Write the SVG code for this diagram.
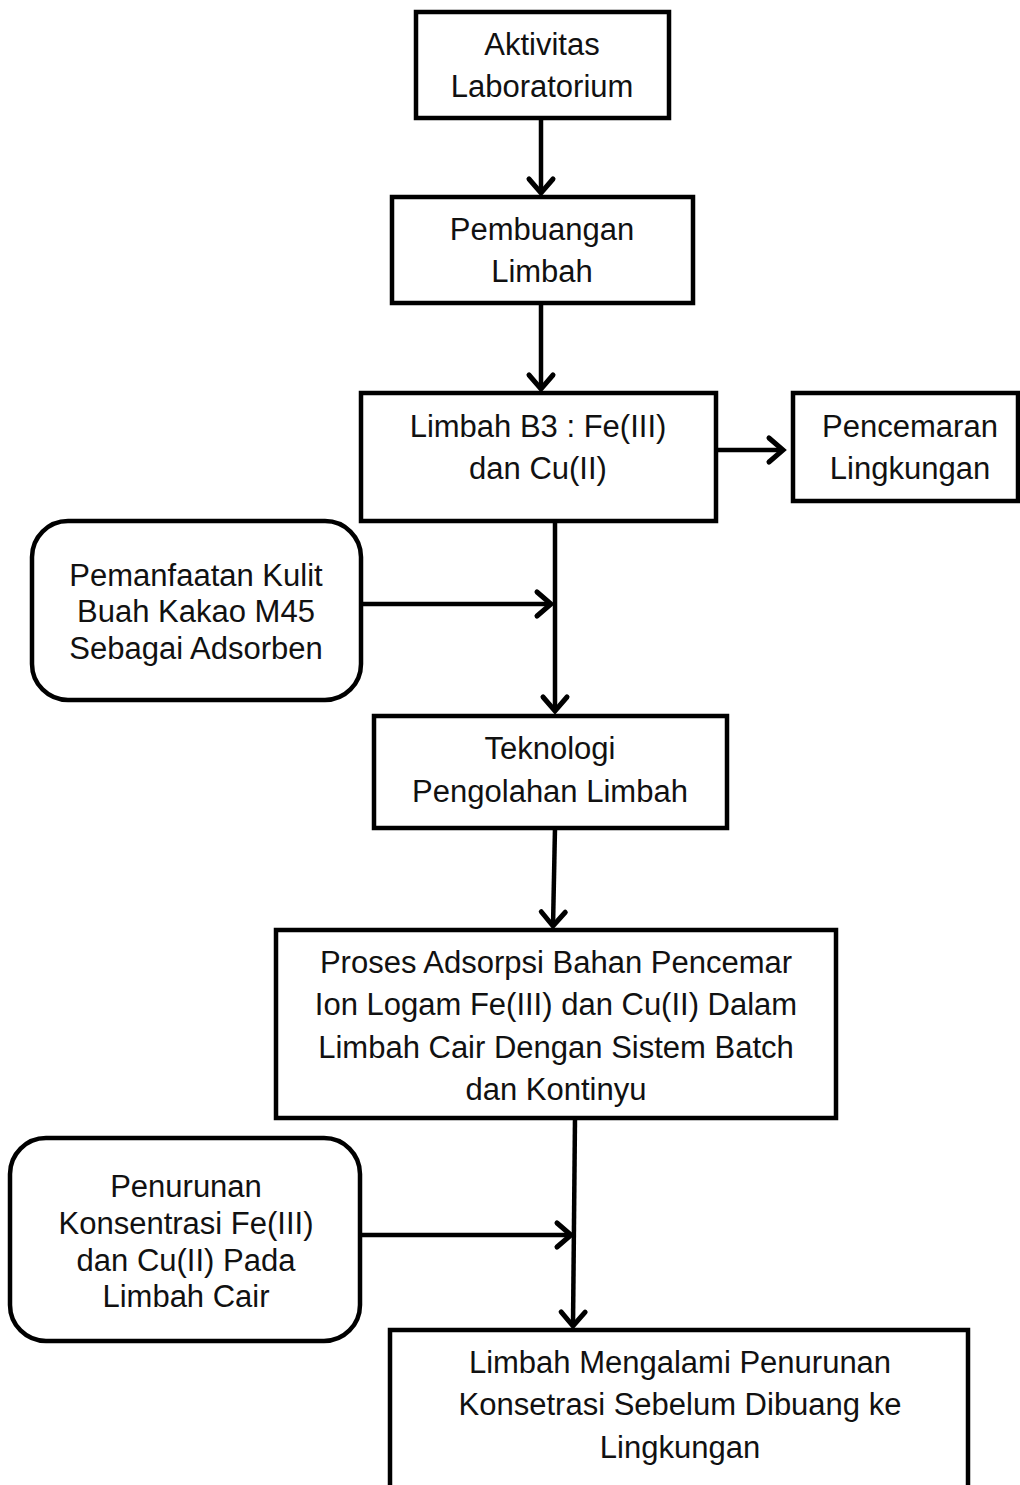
<svg xmlns="http://www.w3.org/2000/svg" width="1020" height="1485" viewBox="0 0 1020 1485">
<style>
.box{fill:#fff;stroke:#000;stroke-width:4.5}
.t{font-family:"Liberation Sans",Arial,sans-serif;font-size:31px;fill:#111;text-anchor:middle}
.c{fill:none;stroke:#000;stroke-width:4.5;marker-end:url(#ah)}
</style>
<defs>
<marker id="ah" markerUnits="userSpaceOnUse" markerWidth="40" markerHeight="40" refX="0" refY="0" viewBox="-20 -20 40 40" orient="auto" overflow="visible">
<path d="M-14,-12 L0,0 L-14,12" fill="none" stroke="#000" stroke-width="5" stroke-linecap="round" stroke-linejoin="miter"/>
</marker>
</defs>
<rect width="1020" height="1485" fill="#fff"/>
<g id="connectors">
<path class="c" d="M541,118 V193"/>
<path class="c" d="M541,303 V389"/>
<path class="c" d="M716,450 H783"/>
<path class="c" d="M555,521 V711"/>
<path class="c" d="M361,604 H551"/>
<path class="c" d="M555,828 L553,926"/>
<path class="c" d="M575,1118 L573,1326"/>
<path class="c" d="M360,1235 H571"/>
</g>
<g id="n1"><rect class="box" x="416" y="12" width="253" height="106"/>
<text class="t" x="542" y="55">Aktivitas</text><text class="t" x="542" y="97">Laboratorium</text></g>
<g id="n2"><rect class="box" x="392" y="197" width="301" height="106"/>
<text class="t" x="542" y="240">Pembuangan</text><text class="t" x="542" y="282">Limbah</text></g>
<g id="n3"><rect class="box" x="361" y="393" width="355" height="128"/>
<text class="t" x="538" y="437">Limbah B3 : Fe(III)</text><text class="t" x="538" y="479">dan Cu(II)</text></g>
<g id="n4"><rect class="box" x="793" y="393" width="225" height="108"/>
<text class="t" x="910" y="437">Pencemaran</text><text class="t" x="910" y="479">Lingkungan</text></g>
<g id="n5"><rect class="box" x="32" y="521" width="329" height="179" rx="36"/>
<text class="t" x="196" y="586">Pemanfaatan Kulit</text><text class="t" x="196" y="622">Buah Kakao M45</text><text class="t" x="196" y="659">Sebagai Adsorben</text></g>
<g id="n6"><rect class="box" x="374" y="716" width="353" height="112"/>
<text class="t" x="550" y="759">Teknologi</text><text class="t" x="550" y="802">Pengolahan Limbah</text></g>
<g id="n7"><rect class="box" x="276" y="930" width="560" height="188"/>
<text class="t" x="556" y="973">Proses Adsorpsi Bahan Pencemar</text><text class="t" x="556" y="1015">Ion Logam Fe(III) dan Cu(II) Dalam</text><text class="t" x="556" y="1058">Limbah Cair Dengan Sistem Batch</text><text class="t" x="556" y="1100">dan Kontinyu</text></g>
<g id="n8"><rect class="box" x="10" y="1138" width="350" height="203" rx="36"/>
<text class="t" x="186" y="1197">Penurunan</text><text class="t" x="186" y="1234">Konsentrasi Fe(III)</text><text class="t" x="186" y="1271">dan Cu(II) Pada</text><text class="t" x="186" y="1307">Limbah Cair</text></g>
<g id="n9"><rect class="box" x="390" y="1330" width="578" height="180"/>
<text class="t" x="680" y="1373">Limbah Mengalami Penurunan</text><text class="t" x="680" y="1415">Konsetrasi Sebelum Dibuang ke</text><text class="t" x="680" y="1458">Lingkungan</text></g>
</svg>
